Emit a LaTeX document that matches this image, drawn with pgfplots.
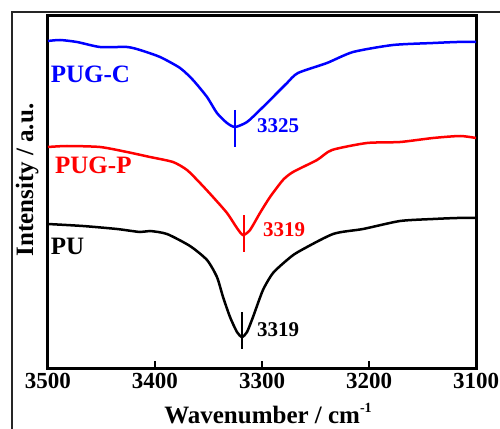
\documentclass[border=0pt]{standalone}
\usepackage{fontspec}
\setmainfont{Liberation Serif}
\usepackage{pgfplots}
\pgfplotsset{compat=1.18}

\begin{document}
\begin{tikzpicture}[x=1bp,y=1bp]
\path[use as bounding box] (0,0) rectangle (500,428);
% outer frame of the original figure
\draw[line width=2bp, black!85] (12,-5) -- (12,416) -- (505,416);
\begin{axis}[
    at={(48bp,60bp)}, anchor=south west,
    scale only axis,
    width=428bp, height=352bp,
    xmin=3100, xmax=3500, x dir=reverse,
    ymin=0, ymax=352,
    xtick={3500,3400,3300,3200,3100},
    ytick=\empty,
    xtick pos=bottom, tick align=inside,
    major tick length=7bp,
    axis line style={line width=3bp},
    every tick/.style={line width=2bp, black},
    /pgf/number format/assume math mode=true,
    /pgf/number format/1000 sep={},
    xticklabel style={font=\fontsize{23bp}{27bp}\selectfont\bfseries, yshift=-2bp},
    xlabel={Wavenumber / cm\raisebox{11bp}{\fontsize{14bp}{14bp}\selectfont -1}},
    ylabel={Intensity / a.u.},
    label style={font=\fontsize{25bp}{30bp}\selectfont\bfseries},
    xlabel style={at={(axis description cs:0.514,-0.159)}, anchor=base},
    ylabel style={at={(axis description cs:-0.049,0.534)}, anchor=center},
    clip=false,
]
% PUG-C
\addplot[blue, line width=2.5bp, smooth, tension=0.4] coordinates {
(3500.0,327) (3488.8,328) (3472.9,326) (3451.4,321) (3426.2,321) (3414.0,318)
(3395.3,311) (3376.6,300) (3364.5,288) (3351.4,271) (3342.1,255) (3332.7,245)
(3325.2,241) (3314.0,246) (3301.9,258) (3289.7,271) (3276.6,285) (3266.4,295)
(3239.3,305) (3214.9,316) (3177.6,323) (3140.2,325) (3117.8,326) (3100.0,326)
};
% PUG-P
\addplot[red, line width=2.5bp, smooth, tension=0.4] coordinates {
(3500.0,221) (3482.2,222) (3451.4,221) (3426.2,216) (3404.7,211) (3383.2,206)
(3370.1,198) (3357.9,185) (3345.8,171) (3332.7,155) (3323.4,140) (3317.8,133)
(3311.2,138) (3301.9,155) (3292.5,171) (3280.4,188) (3271.0,196) (3248.6,208)
(3234.6,218) (3201.9,225) (3171.0,226) (3140.2,230) (3114.9,232) (3100.0,230)
};
% PU
\addplot[black, line width=2.5bp, smooth, tension=0.4] coordinates {
(3500.0,144) (3467.3,142) (3435.5,139) (3414.0,136) (3404.7,137) (3388.8,134)
(3367.3,122) (3351.4,108) (3342.1,91) (3336.4,71) (3329.9,51) (3323.4,36)
(3318.7,31) (3314.0,36) (3308.4,51) (3299.1,78) (3289.7,95) (3276.6,108)
(3266.4,116) (3233.6,134) (3205.6,139) (3171.0,147) (3140.2,149) (3117.8,150)
(3100.0,150)
};
% peak markers
\addplot[blue, line width=2.5bp] coordinates {(3325.2,258) (3325.2,221)};
\addplot[red, line width=2.5bp] coordinates {(3316.8,153) (3316.8,116)};
\addplot[black, line width=2.5bp] coordinates {(3318.7,56) (3318.7,19)};
% labels
\node[anchor=base west, blue, font=\fontsize{25bp}{30bp}\selectfont\bfseries, inner sep=0pt] at (axis cs:3497.5,285) {PUG-C};
\node[anchor=base west, red, font=\fontsize{25bp}{30bp}\selectfont\bfseries, inner sep=0pt] at (axis cs:3493.5,195) {PUG-P};
\node[anchor=base west, black, font=\fontsize{25bp}{30bp}\selectfont\bfseries, inner sep=0pt] at (axis cs:3497.5,114) {PU};
\node[anchor=base west, blue, font=\fontsize{21bp}{25bp}\selectfont\bfseries, inner sep=0pt] at (axis cs:3304.7,235) {3325};
\node[anchor=base west, red, font=\fontsize{21bp}{25bp}\selectfont\bfseries, inner sep=0pt] at (axis cs:3299.1,132) {3319};
\node[anchor=base west, black, font=\fontsize{21bp}{25bp}\selectfont\bfseries, inner sep=0pt] at (axis cs:3304.7,32) {3319};
\end{axis}
\end{tikzpicture}
\end{document}
